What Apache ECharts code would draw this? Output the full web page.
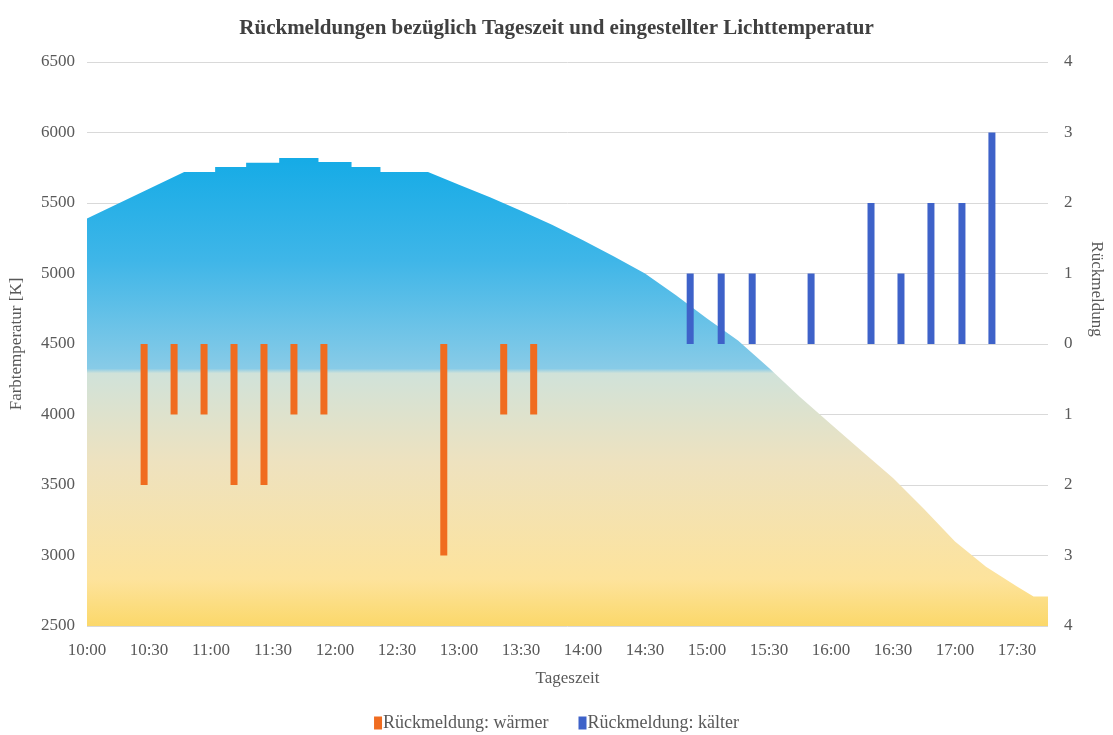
<!DOCTYPE html>
<html>
<head>
<meta charset="utf-8">
<script src="https://cdn.jsdelivr.net/npm/echarts@6/dist/echarts.min.js"></script>
<style>
html,body{margin:0;padding:0;background:#fff;}
#chart{width:1113px;height:735px;}
</style>
</head>
<body>
<div id="chart"></div>
<script>
// Minutes after 10:00 and colour temperature [K] of the set light
const areaTimes = [0, 47, 62, 62, 77, 77, 93, 93, 112, 112, 128, 128, 142, 142, 165, 180, 195, 210, 225, 240, 255, 270, 285, 300, 315, 330, 345, 360, 375, 390, 405, 420, 435, 450, 458, 465];
const areaKelvin = [5390, 5720, 5720, 5755, 5755, 5785, 5785, 5820, 5820, 5790, 5790, 5755, 5755, 5720, 5720, 5630, 5540, 5445, 5345, 5235, 5120, 5000, 4845, 4680, 4525, 4330, 4125, 3930, 3740, 3550, 3330, 3100, 2920, 2780, 2710, 2710];

// Feedback "wärmer" (minutes after 10:00, count shown downward)
const warmTimes = [29.5, 44, 58.5, 73, 87.5, 102, 116.5, 174.5, 203.5, 218];
const warmValues = [-2, -1, -1, -2, -2, -1, -1, -3, -1, -1];

// Feedback "kälter"
const coldTimes = [290, 305, 320, 348.5, 377.5, 392, 406.5, 421.5, 436];
const coldValues = [1, 1, 1, 1, 2, 1, 2, 2, 3];

const title = 'Rückmeldungen bezüglich Tageszeit und eingestellter Lichttemperatur';
const leftAxisName = 'Farbtemperatur [K]';
const rightAxisName = 'Rückmeldung';
const xAxisName = 'Tageszeit';
const warmName = 'Rückmeldung: wärmer';
const coldName = 'Rückmeldung: kälter';

function fmtTime(v) {
  if (Math.round(v) % 30 !== 0) return '';
  const total = 600 + v;
  const h = Math.floor(total / 60);
  const m = total % 60;
  return h + ':' + (m < 10 ? '0' : '') + m;
}

const serif = '"Liberation Serif", "DejaVu Serif", serif';
const textColor = '#595959';
const fs = 17;

const chart = echarts.init(document.getElementById('chart'), null, {renderer: 'canvas'});
chart.setOption({
  animation: false,
  backgroundColor: '#ffffff',
  title: {
    text: title,
    left: 'center',
    top: 13,
    textStyle: {fontFamily: serif, fontSize: 21, fontWeight: 'bold', color: '#404040'}
  },
  legend: {
    top: 709,
    left: 'center',
    itemWidth: 8,
    itemHeight: 13,
    itemGap: 30,
    icon: 'rect',
    data: [warmName, coldName],
    textStyle: {fontFamily: serif, fontSize: 18, color: textColor, padding: [0, 0, 0, -4]}
  },
  grid: {left: 86, right: 58, top: 62, bottom: 109},
  xAxis: {
    type: 'value',
    min: 0,
    max: 465,
    interval: 30,
    name: xAxisName,
    nameLocation: 'middle',
    nameGap: 44,
    nameTextStyle: {fontFamily: serif, fontSize: fs, color: textColor},
    axisLine: {show: false},
    axisTick: {show: false},
    splitLine: {show: false},
    axisLabel: {fontFamily: serif, fontSize: fs, color: textColor, margin: 16, formatter: fmtTime, showMaxLabel: false}
  },
  yAxis: [
    {
      type: 'value',
      min: 2500,
      max: 6500,
      interval: 500,
      name: leftAxisName,
      nameLocation: 'middle',
      nameGap: 62,
      nameTextStyle: {fontFamily: serif, fontSize: fs, color: textColor},
      axisLine: {show: false},
      axisTick: {show: false},
      axisLabel: {fontFamily: serif, fontSize: fs, color: textColor, margin: 12, formatter: v => String(v)},
      splitLine: {show: true, lineStyle: {color: '#d9d9d9', width: 1}}
    },
    {
      type: 'value',
      min: -4,
      max: 4,
      interval: 1,
      position: 'right',
      name: rightAxisName,
      nameLocation: 'middle',
      nameRotate: -90,
      nameGap: 40,
      nameTextStyle: {fontFamily: serif, fontSize: fs, color: textColor, padding: [0, 110, 0, 0]},
      axisLine: {show: false},
      axisTick: {show: false},
      axisLabel: {fontFamily: serif, fontSize: fs, color: textColor, margin: 16, formatter: v => String(Math.abs(v))},
      splitLine: {show: false}
    }
  ],
  series: [
    {
      name: 'Farbtemperatur',
      type: 'line',
      data: areaTimes.map((t, i) => [t, areaKelvin[i]]),
      symbol: 'none',
      lineStyle: {width: 0},
      z: 1,
      areaStyle: {
        opacity: 1,
        origin: 'start',
        color: new echarts.graphic.LinearGradient(0, 0, 0, 1, [
          {offset: 0, color: '#15abe6'},
          {offset: 0.22, color: '#3fb6e8'},
          {offset: 0.45, color: '#88cbe7'},
          {offset: 0.46, color: '#d0e2d9'},
          {offset: 0.65, color: '#eee2bf'},
          {offset: 0.9, color: '#fde39c'},
          {offset: 1, color: '#fbd86a'}
        ])
      }
    },
    {
      name: warmName,
      type: 'bar',
      yAxisIndex: 1,
      barWidth: 7,
      itemStyle: {color: '#f06c20'},
      z: 3,
      data: warmTimes.map((t, i) => [t, warmValues[i]])
    },
    {
      name: coldName,
      type: 'bar',
      yAxisIndex: 1,
      barWidth: 7,
      itemStyle: {color: '#3e62c9'},
      z: 3,
      data: coldTimes.map((t, i) => [t, coldValues[i]])
    }
  ]
});
</script>
</body>
</html>
